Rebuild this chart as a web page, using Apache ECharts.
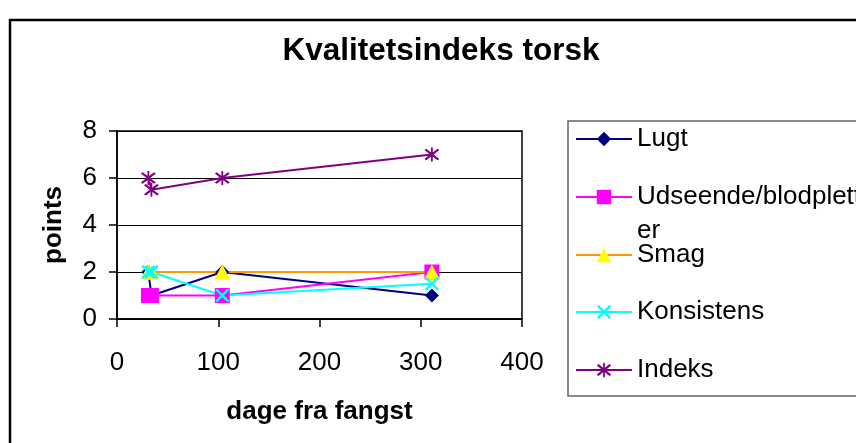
<!DOCTYPE html>
<html>
<head>
<meta charset="utf-8">
<script src="https://cdn.jsdelivr.net/npm/echarts@6/dist/echarts.min.js"></script>
<style>
  html, body { margin: 0; padding: 0; background: #fff; }
  #chart { width: 856px; height: 443px; }
</style>
</head>
<body>
<div id="chart"></div>
<script>
// Days since catch and quality scores per attribute
const days = [31, 34, 104, 311];
const lugt = [2, 1, 2, 1];
const udseende = [1, 1, 1, 2];
const smag = [2, 2, 2, 2];
const konsistens = [2, 2, 1, 1.5];
const indeks = [6, 5.5, 6, 7];

const xTicks = [0, 100, 200, 300, 400];
const yTicks = [0, 2, 4, 6, 8];

const FONT = '"Liberation Sans", Arial, sans-serif';

// Custom marker shapes: an "x" cross and an asterisk
const crossPath = 'path://M0,1.2L1.2,0L5,3.8L8.8,0L10,1.2L6.2,5L10,8.8L8.8,10L5,6.2L1.2,10L0,8.8L3.8,5Z';
const starPath = 'path://M0,1.2L1.2,0L5,3.8L8.8,0L10,1.2L6.2,5L10,8.8L8.8,10L5,6.2L1.2,10L0,8.8L3.8,5Z M4.4,-1L5.6,-1L5.6,11L4.4,11Z';

const pairs = (vals) => days.map((d, i) => [d, vals[i]]);

const seriesDefs = [
  { name: 'Lugt', data: lugt, line: '#000080', fill: '#000080', symbol: 'diamond', size: [14, 14] },
  { name: 'Udseende/blodpletter', data: udseende, line: '#FF00FF', fill: '#FF00FF', symbol: 'rect', size: [15, 15] },
  { name: 'Smag', data: smag, line: '#FF9900', fill: '#FFFF00', symbol: 'triangle', size: [16, 15] },
  { name: 'Konsistens', data: konsistens, line: '#00FFFF', fill: '#00FFFF', symbol: crossPath, size: [14, 14] },
  { name: 'Indeks', data: indeks, line: '#800080', fill: '#800080', symbol: starPath, size: [15, 14] }
];

const series = seriesDefs.map(s => ({
  name: s.name,
  type: 'line',
  data: pairs(s.data),
  symbol: s.symbol,
  symbolSize: s.size,
  showAllSymbol: true,
  lineStyle: { color: s.line, width: 2 },
  itemStyle: { color: s.fill, borderWidth: 0 },
  emphasis: { disabled: true },
  animation: false
}));

// One legend block per entry so each row sits at its own height
const legendRows = [139, 197, 255, 312, 370];
const legends = seriesDefs.map((s, i) => {
  const twoLine = s.name === 'Udseende/blodpletter';
  return {
    data: [s.name],
    left: 575,
    top: twoLine ? legendRows[i] - 51 : legendRows[i] - 17,
    padding: 0,
    itemWidth: 56,
    itemHeight: 18,
    selectedMode: false,
    // the long name wraps inside the legend box; a blank first line keeps
    // the first text line level with its symbol
    formatter: twoLine ? ' \nUdseende/blodplett\ner' : '{name}',
    textStyle: { fontFamily: FONT, fontSize: 26, color: '#000', lineHeight: 34 }
  };
});

const chart = echarts.init(document.getElementById('chart'), null, { renderer: 'canvas' });
chart.setOption({
  backgroundColor: '#fff',
  animation: false,
  title: {
    text: 'Kvalitetsindeks torsk',
    left: 436,
    textAlign: 'center',
    top: 30,
    textStyle: { fontFamily: FONT, fontSize: 31.5, fontWeight: 'bold', color: '#000' }
  },
  legend: legends,
  grid: {
    left: 117, right: 334, top: 131, bottom: 124,
    show: true, borderColor: '#000', borderWidth: 1.5, backgroundColor: '#fff'
  },
  xAxis: {
    type: 'value',
    min: xTicks[0], max: xTicks[xTicks.length - 1], interval: 100,
    name: 'dage fra fangst',
    nameLocation: 'middle',
    nameGap: 80,
    nameTextStyle: { fontFamily: FONT, fontSize: 26, fontWeight: 'bold', color: '#000' },
    axisLine: { show: true, lineStyle: { color: '#000', width: 1.5 } },
    axisTick: { show: true, length: 8, lineStyle: { color: '#000', width: 1.5 } },
    axisLabel: { fontFamily: FONT, fontSize: 26, color: '#000', margin: 31 },
    splitLine: { show: false }
  },
  yAxis: {
    type: 'value',
    min: yTicks[0], max: yTicks[yTicks.length - 1], interval: 2,
    name: 'points',
    nameLocation: 'middle',
    nameGap: 50,
    nameRotate: 90,
    nameTextStyle: { fontFamily: FONT, fontSize: 26, fontWeight: 'bold', color: '#000' },
    axisLine: { show: true, lineStyle: { color: '#000', width: 1.5 } },
    axisTick: { show: true, length: 8, lineStyle: { color: '#000', width: 1.5 } },
    axisLabel: { fontFamily: FONT, fontSize: 26, color: '#000', margin: 20 },
    splitLine: { show: true, lineStyle: { color: '#000', width: 1 } }
  },
  graphic: [
    // outer chart frame
    { type: 'rect', silent: true, z: -10,
      shape: { x: 10, y: 20, width: 900, height: 500 },
      style: { fill: 'none', stroke: '#000', lineWidth: 2.5 } },
    // legend frame
    { type: 'rect', silent: true, z: -5,
      shape: { x: 568, y: 121, width: 400, height: 275 },
      style: { fill: '#fff', stroke: '#666', lineWidth: 1.5 } }
  ],
  series: series
});
</script>
</body>
</html>
